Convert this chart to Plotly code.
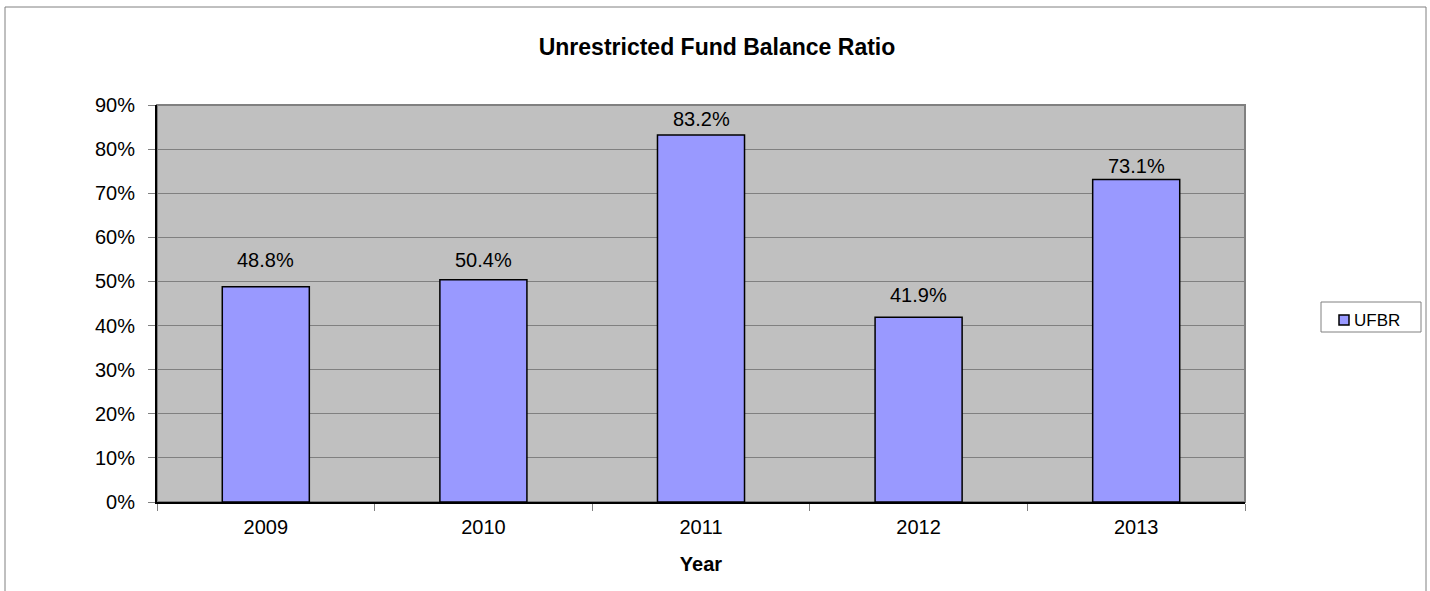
import plotly.graph_objects as go

years = ["2009", "2010", "2011", "2012", "2013"]
ufbr = [48.8, 50.4, 83.2, 41.9, 73.1]
series_name = "UFBR"
y_ticks = [0, 10, 20, 30, 40, 50, 60, 70, 80, 90]
y_tick_labels = [f"{v}%" for v in y_ticks]

# vertical lift (px) of each value label above its bar
label_lift = [27, 20, 16, 22, 14]

W, H = 1430, 591
L, R, T, B = 157, 185, 105, 89
pw, ph = W - L - R, H - T - B

def px_x(x):
    return (x - L) / pw

def px_y(y):
    return (H - B - y) / ph

font = "Liberation Sans, Arial, sans-serif"

fig = go.Figure()
fig.add_trace(go.Bar(
    x=years, y=ufbr, name=series_name,
    width=0.4,
    marker=dict(color="#9999FF", line=dict(color="#000000", width=1.5)),
    showlegend=False,
))

shapes = [
    # chart frame
    dict(type="rect", xref="paper", yref="paper",
         x0=px_x(5), x1=px_x(1426), y0=px_y(610), y1=px_y(7),
         line=dict(color="#808080", width=1), fillcolor="rgba(0,0,0,0)", layer="below"),
    # plot area border (top/right)
    dict(type="rect", xref="paper", yref="paper", x0=0, x1=1, y0=0, y1=1,
         line=dict(color="#808080", width=2), fillcolor="rgba(0,0,0,0)", layer="below"),
    # legend box
    dict(type="rect", xref="paper", yref="paper",
         x0=px_x(1321), x1=px_x(1421), y0=px_y(332), y1=px_y(302),
         line=dict(color="#808080", width=1), fillcolor="#FFFFFF"),
    # legend swatch
    dict(type="rect", xref="paper", yref="paper",
         x0=px_x(1339), x1=px_x(1349), y0=px_y(325), y1=px_y(315),
         line=dict(color="#000000", width=1.5), fillcolor="#9999FF"),
]

annotations = [
    dict(text=series_name, xref="paper", yref="paper", x=px_x(1352), y=px_y(320),
         xanchor="left", yanchor="middle", showarrow=False,
         font=dict(family=font, size=17, color="#000000")),
]

# value labels above the bars (category axis positions are the bar indices)
for i, (v, lift) in enumerate(zip(ufbr, label_lift)):
    annotations.append(dict(
        x=i, y=v, xref="x", yref="y", text=f"{v:.1f}%",
        showarrow=False, xanchor="center", yanchor="middle", yshift=lift,
        font=dict(family=font, size=20, color="#000000"),
    ))

fig.update_layout(
    width=W, height=H,
    margin=dict(l=L, r=R, t=T, b=B, autoexpand=False),
    paper_bgcolor="#FFFFFF",
    plot_bgcolor="#C0C0C0",
    title=dict(text="<b>Unrestricted Fund Balance Ratio</b>", x=717 / W, xanchor="center",
               y=1 - 47 / H, yanchor="middle",
               font=dict(family=font, size=23, color="#000000")),
    xaxis=dict(
        type="category",
        categoryorder="array", categoryarray=years,
        range=[-0.5, len(years) - 0.5],
        title=dict(text="<b>Year</b>", font=dict(family=font, size=20, color="#000000"), standoff=20),
        tickfont=dict(family=font, size=20, color="#000000"),
        tickangle=0,
        ticklabelstandoff=6,
        showline=True, linecolor="#000000", linewidth=2,
        ticks="outside", ticklen=7, tickcolor="#808080", tickson="boundaries",
        showgrid=False, fixedrange=True,
    ),
    yaxis=dict(
        range=[0, 90],
        tickvals=y_ticks, ticktext=y_tick_labels,
        tickfont=dict(family=font, size=20, color="#000000"),
        ticklabelstandoff=9,
        showline=True, linecolor="#000000", linewidth=2,
        ticks="outside", ticklen=7, tickcolor="#808080",
        showgrid=True, gridcolor="#808080", gridwidth=1,
        zeroline=False, fixedrange=True,
    ),
    shapes=shapes,
    annotations=annotations,
    showlegend=False,
)

fig.write_html("out.html")
